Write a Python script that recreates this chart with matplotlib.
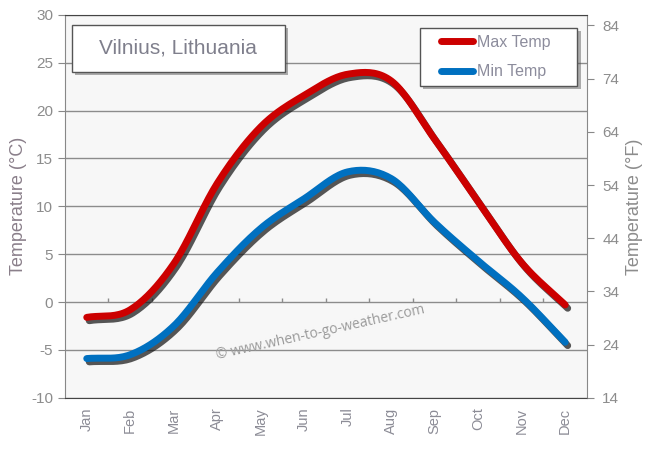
import matplotlib.pyplot as plt
import matplotlib.patheffects as pe
import numpy as np
from matplotlib.patches import Rectangle

plt.rcParams["font.family"] = ["Liberation Sans", "DejaVu Sans"]

MONTHS = ["Jan", "Feb", "Mar", "Apr", "May", "Jun",
          "Jul", "Aug", "Sep", "Oct", "Nov", "Dec"]
MAX_TEMP = [-1.6, -0.8, 4.0, 12.4, 18.3, 21.6, 23.8, 23.1, 17.0, 10.5, 4.1, -0.3]
MIN_TEMP = [-5.9, -5.5, -2.5, 3.1, 7.7, 10.8, 13.6, 12.9, 8.3, 4.3, 0.5, -4.2]
C_TICKS = [-10, -5, 0, 5, 10, 15, 20, 25, 30]
F_TICKS = [14, 24, 34, 44, 54, 64, 74, 84]

RED = "#cc0000"
BLUE = "#0070c0"
TEXT = "#8c8c8c"


def smooth(y, n=20):
    """Catmull-Rom curve through the monthly points, for drawing only."""
    y = np.asarray(y, dtype=float)
    p = np.concatenate([[2 * y[0] - y[1]], y, [2 * y[-1] - y[-2]]])
    xs, ys = [], []
    for i in range(len(y) - 1):
        p0, p1, p2, p3 = p[i], p[i + 1], p[i + 2], p[i + 3]
        t = np.linspace(0, 1, n, endpoint=False)
        seg = 0.5 * (2 * p1 + (-p0 + p2) * t + (2 * p0 - 5 * p1 + 4 * p2 - p3) * t**2
                     + (-p0 + 3 * p1 - 3 * p2 + p3) * t**3)
        xs.append(i + t)
        ys.append(seg)
    xs.append([len(y) - 1])
    ys.append([y[-1]])
    return np.concatenate(xs), np.concatenate(ys)


fig = plt.figure(figsize=(6.5, 4.5), dpi=100)
ax = fig.add_axes([0.1, 0.116, 0.803, 0.851])
ax.set_facecolor("#f7f7f7")

shadow = [pe.SimpleLineShadow(offset=(1.8, -2.4), shadow_color="#111111", alpha=0.7),
          pe.Normal()]
for vals, color, label in [(MAX_TEMP, RED, "Max Temp"), (MIN_TEMP, BLUE, "Min Temp")]:
    sx, sy = smooth(vals)
    ax.plot(sx, sy, color=color, lw=5, solid_capstyle="round",
            path_effects=shadow, zorder=3)
    ax.plot([], [], color=color, lw=5, solid_capstyle="round", label=label)

x = np.arange(len(MONTHS))
ax.set_xlim(-0.5, len(MONTHS) - 0.5)
ax.set_ylim(-10, 30)
ax.set_yticks(C_TICKS)
ax.set_yticklabels([str(t) for t in C_TICKS])
ax.set_xticks(x)
ax.set_xticklabels(MONTHS, rotation=90)
ax.tick_params(axis="x", length=0, pad=7, labelsize=10.5, labelcolor="#8c8c96")
ax.tick_params(axis="y", length=5, color="#888888", labelsize=11, labelcolor=TEXT)
ax.yaxis.grid(True, color="#8c8c8c", lw=1)
ax.set_axisbelow(True)
ax.vlines(x[:-1] + 0.5, 0, 0.45, color="#8c8c8c", lw=1)
for side in ["left", "right"]:
    ax.spines[side].set_color("#888888")
for side in ["top", "bottom"]:
    ax.spines[side].set_color("#444444")
ax.set_ylabel("Temperature (°C)", color="#8a7f8a", fontsize=13, labelpad=3)

ax2 = ax.twinx()
ax2.set_ylim(-10 * 1.8 + 32, 30 * 1.8 + 32)
ax2.set_yticks(F_TICKS)
ax2.set_yticklabels([str(t) for t in F_TICKS])
ax2.tick_params(axis="y", length=5, color="#888888", labelsize=11,
                labelcolor=TEXT, pad=6)
for s in ax2.spines.values():
    s.set_visible(False)
ax2.set_ylabel("Temperature (°F)", color="#8c8c8c", fontsize=13, labelpad=5)

box_effects = [pe.SimplePatchShadow(offset=(2.5, -2.5), alpha=0.45), pe.Normal()]
ax.add_patch(Rectangle((0.0134, 0.851), 0.408, 0.123, transform=ax.transAxes,
                       facecolor="white", edgecolor="#555555", lw=1, zorder=5,
                       path_effects=box_effects))
ax.text(0.217, 0.9125, "Vilnius, Lithuania", transform=ax.transAxes,
        ha="center", va="center", fontsize=15, color="#7f7f8c", zorder=6)

ax.add_patch(Rectangle((0.680, 0.8146), 0.301, 0.1514, transform=ax.transAxes,
                       facecolor="white", edgecolor="#555555", lw=1, zorder=5,
                       path_effects=box_effects))
leg = ax.legend(loc="center", bbox_to_anchor=(0.826, 0.890), fontsize=11.5,
                frameon=False, handlelength=1.95, labelspacing=0.9,
                borderpad=0, handletextpad=0.3, borderaxespad=0,
                labelcolor="#8c8c9c")
leg.set_zorder(6)

ax.text(0.49, 0.17, "© www.when-to-go-weather.com", transform=ax.transAxes,
        ha="center", va="center", rotation=12.5, fontsize=10, color="#9a9a9a",
        family=["Open Sans", "DejaVu Sans"], zorder=2)

fig.savefig("out.png", dpi=100)
